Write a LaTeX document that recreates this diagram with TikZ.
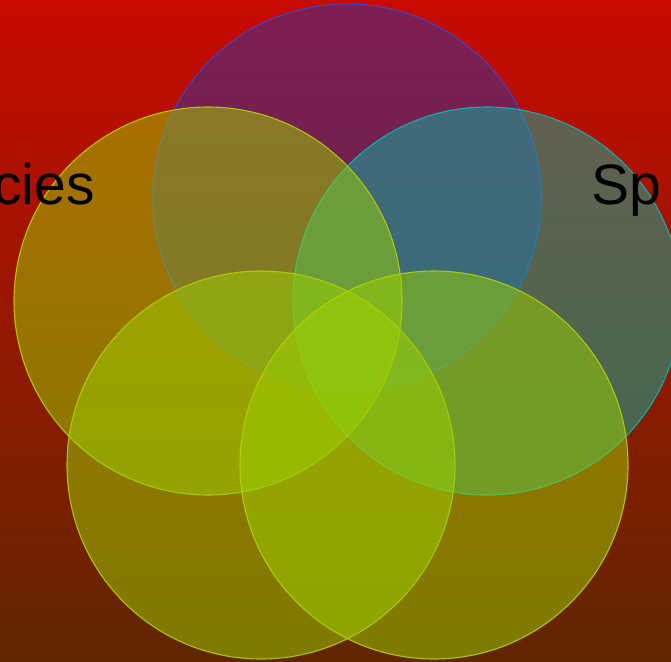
\documentclass[tikz,border=0pt]{standalone}
\usepackage{fontspec}
\setmainfont{Liberation Sans}
\usetikzlibrary{positioning}
\definecolor{bgtop}{RGB}{200,10,0}
\definecolor{bgmid}{RGB}{172,20,0}
\definecolor{bgbot}{RGB}{96,38,0}
\definecolor{setblue}{RGB}{55,50,160}
\definecolor{edgeblue}{RGB}{60,70,210}
\definecolor{setlime}{RGB}{156,208,0}
\definecolor{edgelime}{RGB}{180,210,0}
\definecolor{setteal}{RGB}{14,178,160}
\definecolor{edgeteal}{RGB}{0,185,185}
\begin{document}
\begin{tikzpicture}[
    x=1pt, y=-1pt,
    set/.style={circle, minimum size=388pt, inner sep=0pt, line width=1.1pt, fill opacity=0.5, draw opacity=0.9},
    tag/.style={font=\fontsize{57}{60}\selectfont, inner sep=0pt, text=black}
]
\shade[top color=bgtop, middle color=bgmid, bottom color=bgbot] (0,0) rectangle (671,661);
\useasboundingbox (0,0) rectangle (671,661);
% five overlapping sets
\node[set, draw=edgeblue, fill=setblue] (topset) at (347,198) {};
\node[set, draw=edgeteal, fill=setteal] (rightset) at (487,301) {};
\node[set, draw=edgelime, fill=setlime] (leftset) at (208,301) {};
\node[set, draw=edgelime, fill=setlime] (lowleftset) at (261,465) {};
\node[set, draw=edgelime, fill=setlime] (lowrightset) at (434,465) {};
% labels, cut by the page edge
\node[tag, anchor=base east] (leftlabel) at (95,204) {cies};
\node[tag, anchor=base west] (rightlabel) at (591,204) {Sp};
\end{tikzpicture}
\end{document}
